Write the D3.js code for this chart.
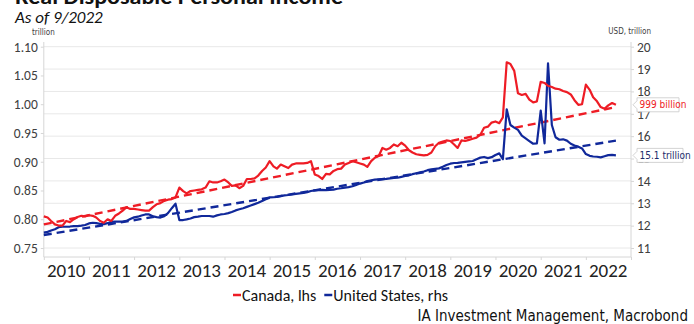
<!DOCTYPE html>
<html>
<head>
<meta charset="utf-8">
<script src="https://cdn.jsdelivr.net/npm/d3@7"></script>
<style>
  body { margin: 0; background: #fff; }
  text { font-family: Carlito, Lato, sans-serif; }
  .narrow { font-family: "Liberation Sans Narrow", "Arial Narrow", "DejaVu Sans Condensed", sans-serif; }
</style>
</head>
<body>
<script>
// ------------------------------------------------------------------
// data (monthly, Jan 2010 .. Sep 2022)
// ------------------------------------------------------------------
const START_YEAR = 2010
const START_MONTH = 0

// Canada, trillion (lhs)
const canada = [
  0.805, 0.803, 0.797, 0.791, 0.789, 0.789, 0.797, 0.795, 0.800, 0.804, 0.806, 0.805,
  0.807, 0.806, 0.803, 0.797, 0.794, 0.800, 0.797, 0.806, 0.810, 0.815, 0.821, 0.818,
  0.818, 0.817, 0.816, 0.815, 0.815, 0.821, 0.826, 0.828, 0.832, 0.834, 0.835, 0.838,
  0.855, 0.849, 0.845, 0.849, 0.850, 0.851, 0.852, 0.855, 0.866, 0.864, 0.864, 0.866,
  0.869, 0.864, 0.858, 0.859, 0.854, 0.858, 0.870, 0.870, 0.871, 0.876, 0.884, 0.890,
  0.901, 0.892, 0.888, 0.895, 0.892, 0.889, 0.895, 0.897, 0.897, 0.897, 0.898, 0.901,
  0.878, 0.875, 0.870, 0.879, 0.878, 0.884, 0.887, 0.888, 0.895, 0.898, 0.901, 0.899,
  0.897, 0.895, 0.891, 0.901, 0.907, 0.910, 0.924, 0.921, 0.924, 0.930, 0.927, 0.933,
  0.928, 0.920, 0.916, 0.913, 0.912, 0.911, 0.912, 0.916, 0.927, 0.933, 0.935, 0.937,
  0.936, 0.930, 0.924, 0.937, 0.936, 0.938, 0.940, 0.942, 0.947, 0.959, 0.961, 0.968,
  0.970, 0.967, 0.977, 1.073, 1.070, 1.058, 1.019, 1.016, 1.018, 1.008, 1.003, 1.005,
  1.039, 1.037, 1.032, 1.030, 1.027, 1.026, 1.023, 1.021, 1.017, 1.007, 0.999, 1.000,
  1.034, 1.025, 1.012, 1.005, 0.995, 0.992, 0.998, 1.002, 0.999
]

// United States, USD trillion (rhs)
const unitedStates = [
  11.69, 11.72, 11.78, 11.84, 11.93, 11.95, 11.95, 11.96, 11.98, 11.98, 12.00, 12.03,
  12.10, 12.13, 12.11, 12.08, 12.07, 12.11, 12.17, 12.18, 12.18, 12.18, 12.21, 12.30,
  12.37, 12.40, 12.45, 12.50, 12.50, 12.42, 12.38, 12.36, 12.42, 12.56, 12.78, 12.98,
  12.25, 12.25, 12.28, 12.32, 12.38, 12.40, 12.43, 12.43, 12.43, 12.40, 12.46, 12.50,
  12.52, 12.56, 12.61, 12.68, 12.73, 12.78, 12.84, 12.90, 12.96, 13.02, 13.10, 13.18,
  13.26, 13.27, 13.28, 13.32, 13.35, 13.37, 13.40, 13.42, 13.44, 13.46, 13.50, 13.55,
  13.58, 13.59, 13.60, 13.59, 13.60, 13.61, 13.65, 13.67, 13.70, 13.72, 13.76, 13.82,
  13.88, 13.93, 13.99, 14.03, 14.06, 14.07, 14.08, 14.09, 14.11, 14.13, 14.14, 14.18,
  14.22, 14.25, 14.30, 14.34, 14.38, 14.42, 14.48, 14.52, 14.54, 14.56, 14.63, 14.71,
  14.77, 14.80, 14.81, 14.83, 14.85, 14.87, 14.89, 14.97, 15.04, 15.07, 15.02, 15.06,
  15.16, 15.23, 14.97, 17.20, 16.50, 16.38, 16.28, 16.02, 15.90, 15.78, 15.66, 15.68,
  17.14, 15.68, 19.26, 16.50, 15.95, 15.84, 15.86, 15.80, 15.66, 15.58, 15.53, 15.45,
  15.20, 15.12, 15.09, 15.08, 15.05, 15.10, 15.15, 15.16, 15.14
]

// dashed trend lines, value at first and last month
const canadaTrend = [0.791, 0.995]
const usTrend = [11.58, 15.80]

const leftTicks = [0.75, 0.80, 0.85, 0.90, 0.95, 1.00, 1.05, 1.10]
const rightTicks = [11, 12, 13, 14, 15, 16, 17, 18, 19, 20]
const yearLabels = [2010, 2011, 2012, 2013, 2014, 2015, 2016, 2017, 2018, 2019, 2020, 2021, 2022]

const canadaEndLabel = '999 billion'
const usEndLabel = '15.1 trillion'

// ------------------------------------------------------------------
// sizes / styles
// ------------------------------------------------------------------
const WIDTH = 694
const HEIGHT = 324
const PLOT_LEFT = 43.8
const PLOT_RIGHT = 631
const Y_TOP = 46.7      // 1.10 / 20
const Y_BOTTOM = 248    // 0.75 / 11
const AXIS_Y = 257

const RED = '#ee1c25'
const BLUE = '#10289a'
const GRID = '#e8e8e8'
const AXIS = '#d6d6d6'
const LABEL = '#404040'

const svg = d3.select('body').append('svg')
  .attr('width', WIDTH)
  .attr('height', HEIGHT)

const dates = canada.map((d, i) => new Date(START_YEAR, START_MONTH + i, 1))

const x = d3.scaleTime()
  .domain([new Date(2010, 0, 1), new Date(2023, 0, 1)])
  .range([PLOT_LEFT, PLOT_RIGHT])

const yLeft = d3.scaleLinear().domain([0.75, 1.10]).range([Y_BOTTOM, Y_TOP])
const yRight = d3.scaleLinear().domain([11, 20]).range([Y_BOTTOM, Y_TOP])

// ---- titles
svg.append('text')
  .attr('x', 15).attr('y', 4)
  .attr('font-weight', 700)
  .attr('font-size', 22)
  .attr('textLength', 328)
  .attr('lengthAdjust', 'spacingAndGlyphs')
  .attr('fill', '#111')
  .text('Real Disposable Personal Income')

svg.append('text')
  .attr('x', 15).attr('y', 23)
  .attr('font-style', 'italic')
  .attr('font-size', 17)
  .attr('fill', '#111')
  .text('As of 9/2022')

svg.append('text')
  .attr('class', 'narrow')
  .attr('x', 32).attr('y', 35)
  .attr('font-size', 8)
  .attr('fill', LABEL)
  .text('trillion')

svg.append('text')
  .attr('class', 'narrow')
  .attr('x', 651).attr('y', 34)
  .attr('text-anchor', 'end')
  .attr('font-size', 8)
  .attr('fill', LABEL)
  .text('USD, trillion')

// ---- grid (on rhs ticks)
svg.append('g')
  .selectAll('line')
  .data(rightTicks)
  .join('line')
  .attr('x1', PLOT_LEFT).attr('x2', PLOT_RIGHT)
  .attr('y1', d => yRight(d)).attr('y2', d => yRight(d))
  .attr('stroke', GRID)
  .attr('stroke-width', 1)

// ---- axes
const leftAxis = svg.append('g')
  .attr('transform', `translate(${PLOT_LEFT},0)`)
  .call(d3.axisLeft(yLeft).tickValues(leftTicks).tickFormat(d3.format('.2f')).tickSize(3).tickPadding(3))

const rightAxis = svg.append('g')
  .attr('transform', `translate(${PLOT_RIGHT},0)`)
  .call(d3.axisRight(yRight).tickValues(rightTicks).tickSize(3).tickPadding(3))

const bottomAxis = svg.append('g')
  .attr('transform', `translate(0,${AXIS_Y})`)
  .call(d3.axisBottom(x).ticks(d3.timeYear.every(1)).tickFormat('').tickSize(3))

for (const ax of [leftAxis, rightAxis, bottomAxis]) {
  ax.select('.domain').remove()
  ax.selectAll('line').attr('stroke', AXIS)
  ax.selectAll('text').attr('fill', LABEL).attr('font-size', 13.5).attr('font-family', 'Carlito, Lato, sans-serif')
}

// axis lines
svg.append('line')
  .attr('x1', PLOT_LEFT).attr('x2', PLOT_LEFT).attr('y1', 42).attr('y2', AXIS_Y)
  .attr('stroke', AXIS)
svg.append('line')
  .attr('x1', PLOT_RIGHT).attr('x2', PLOT_RIGHT).attr('y1', 42).attr('y2', AXIS_Y)
  .attr('stroke', AXIS)
svg.append('line')
  .attr('x1', PLOT_LEFT).attr('x2', PLOT_RIGHT).attr('y1', AXIS_Y).attr('y2', AXIS_Y)
  .attr('stroke', AXIS)

// year labels in the middle of each year
svg.append('g')
  .selectAll('text')
  .data(yearLabels)
  .join('text')
  .attr('x', d => x(new Date(d, 6, 1)))
  .attr('y', 277)
  .attr('text-anchor', 'middle')
  .attr('font-size', 19)
  .attr('fill', '#222')
  .text(d => d)

// ---- trend lines
const first = dates[0]
const last = dates[dates.length - 1]

svg.append('line')
  .attr('x1', x(first)).attr('x2', x(last))
  .attr('y1', yRight(usTrend[0])).attr('y2', yRight(usTrend[1]))
  .attr('stroke', BLUE).attr('stroke-width', 2.4)
  .attr('stroke-dasharray', '8,5')

svg.append('line')
  .attr('x1', x(first)).attr('x2', x(last))
  .attr('y1', yLeft(canadaTrend[0])).attr('y2', yLeft(canadaTrend[1]))
  .attr('stroke', RED).attr('stroke-width', 2.4)
  .attr('stroke-dasharray', '8,5')

// ---- series
const usLine = d3.line()
  .x((d, i) => x(dates[i]))
  .y(d => yRight(d))

const caLine = d3.line()
  .x((d, i) => x(dates[i]))
  .y(d => yLeft(d))

svg.append('path')
  .datum(unitedStates)
  .attr('d', usLine)
  .attr('fill', 'none')
  .attr('stroke', BLUE)
  .attr('stroke-width', 2.2)
  .attr('stroke-linejoin', 'round')

svg.append('path')
  .datum(canada)
  .attr('d', caLine)
  .attr('fill', 'none')
  .attr('stroke', RED)
  .attr('stroke-width', 2.2)
  .attr('stroke-linejoin', 'round')

// ---- end value tags
function endTag(yPos, label, color, w) {
  const g = svg.append('g').attr('transform', `translate(${PLOT_RIGHT + 2},${yPos})`)
  g.append('path')
    .attr('d', `M0,0 L4,-4 L4,-7 L${w},-7 L${w},7 L4,7 L4,4 Z`)
    .attr('fill', '#fff')
    .attr('stroke', '#c8c8c8')
    .attr('stroke-width', 0.8)
  g.append('text')
    .attr('class', 'narrow')
    .attr('x', 6.5).attr('y', 3.5)
    .attr('font-size', 10)
    .attr('fill', color)
    .text(label)
}
endTag(yLeft(canada[canada.length - 1]), canadaEndLabel, RED, 46)
endTag(yRight(unitedStates[unitedStates.length - 1]), usEndLabel, '#1d2c6b', 50)

// ---- legend
const legend = svg.append('g').attr('class', 'narrow')
const legendItems = [
  { name: 'Canada, lhs', color: RED },
  { name: 'United States, rhs', color: BLUE }
]
let lx = 233
legendItems.forEach(item => {
  legend.append('line')
    .attr('x1', lx).attr('x2', lx + 8)
    .attr('y1', 295).attr('y2', 295)
    .attr('stroke', item.color).attr('stroke-width', 2.5)
  const t = legend.append('text')
    .attr('x', lx + 9).attr('y', 300.5)
    .attr('font-size', 16)
    .attr('fill', '#111')
    .text(item.name)
  lx += 9 + t.node().getComputedTextLength() + 8
})

svg.append('text')
  .attr('class', 'narrow')
  .attr('x', 688).attr('y', 321)
  .attr('text-anchor', 'end')
  .attr('font-size', 15)
  .attr('fill', '#111')
  .text('IA Investment Management, Macrobond')
</script>
</body>
</html>
